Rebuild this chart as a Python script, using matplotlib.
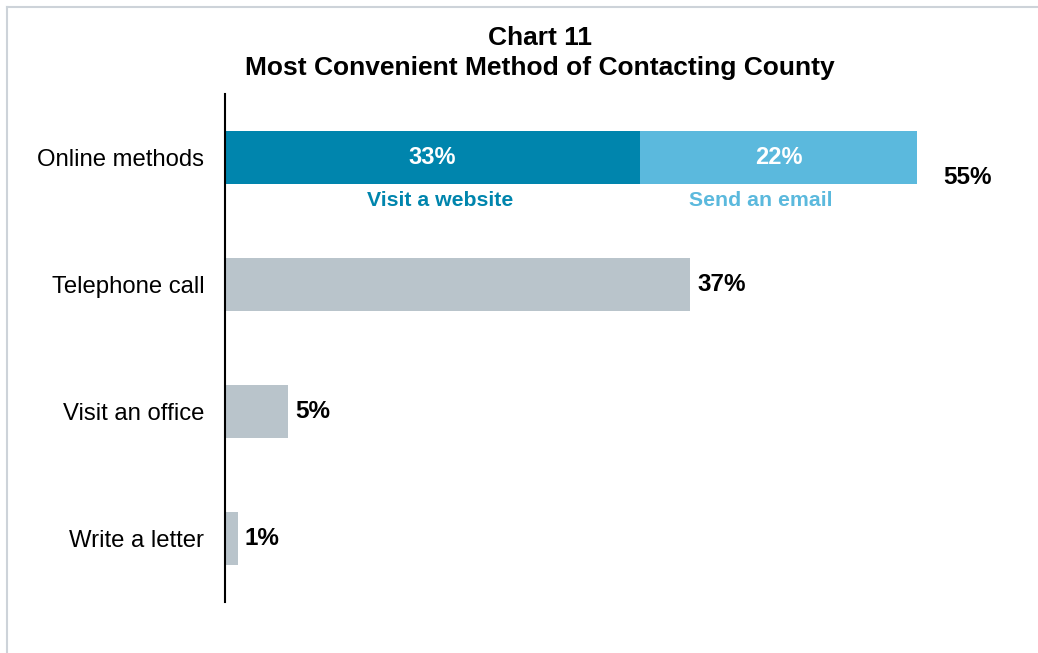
import matplotlib.pyplot as plt
from matplotlib.transforms import Bbox, TransformedBbox
from matplotlib.lines import Line2D

categories = ['Online methods', 'Telephone call', 'Visit an office', 'Write a letter']
values = [55, 37, 5, 1]
online_parts = [33, 22]
online_labels = ['Visit a website', 'Send an email']
online_colors = ['#0085AD', '#5BB9DD']
gray = '#B9C4CB'

plt.rcParams['font.family'] = ['Liberation Sans', 'DejaVu Sans']

fig = plt.figure(figsize=(10.38, 6.53), dpi=100)
ax = fig.add_axes([225 / 1038, 1 - 602 / 653, 780 / 1038, 508 / 653])

bar_h = 0.41
ypos = list(range(len(categories)))

# stacked online bar; the captions below sit a little off the segment centres
label_shift = [0.6, -1.4]
left = 0
for part, lab, col, dx in zip(online_parts, online_labels, online_colors, label_shift):
    ax.barh(0, part, left=left, height=bar_h, color=col)
    ax.text(left + part / 2, 0, f'{part}%', ha='center', va='center',
            color='white', fontsize=17, fontweight='bold')
    ax.text(left + part / 2 + dx, 0.34, lab, ha='center', va='center',
            color=col, fontsize=15.3, fontweight='bold')
    left += part

# total for online, cut off at the bar bottom like the original
t = ax.text(values[0] + 2.1, 0.16, f'{values[0]}%', ha='left', va='center',
            fontsize=17.5, fontweight='bold', color='black')
t.set_clip_box(TransformedBbox(Bbox([[0, bar_h / 2], [100, -0.5]]), ax.transData))

# the other bars
for y, v in zip(ypos[1:], values[1:]):
    ax.barh(y, v, height=bar_h, color=gray)
    ax.text(v + 0.55, y, f'{v}%', ha='left', va='center',
            fontsize=17.5, fontweight='bold', color='black')

ax.set_xlim(0, 62)
ax.set_ylim(3.5, -0.5)
ax.set_yticks(ypos)
ax.set_yticklabels(categories, fontsize=17.2)
ax.tick_params(axis='y', length=0, pad=15)
ax.set_xticks([])
for s in ['top', 'right', 'bottom']:
    ax.spines[s].set_visible(False)
ax.spines['left'].set_linewidth(1.5)

fig.text(540 / 1038, 1 - 38 / 653, 'Chart 11', ha='center', va='center',
         fontsize=19, fontweight='bold')
fig.text(540 / 1038, 1 - 68 / 653, 'Most Convenient Method of Contacting County',
         ha='center', va='center', fontsize=19, fontweight='bold')

# light frame at top and left
fig.add_artist(Line2D([7 / 1038, 1], [1 - 7 / 653, 1 - 7 / 653], color='#CDD3D9', lw=1.5))
fig.add_artist(Line2D([7 / 1038, 7 / 1038], [0, 1 - 7 / 653], color='#CDD3D9', lw=1.5))

fig.savefig('out.png', dpi=100)
